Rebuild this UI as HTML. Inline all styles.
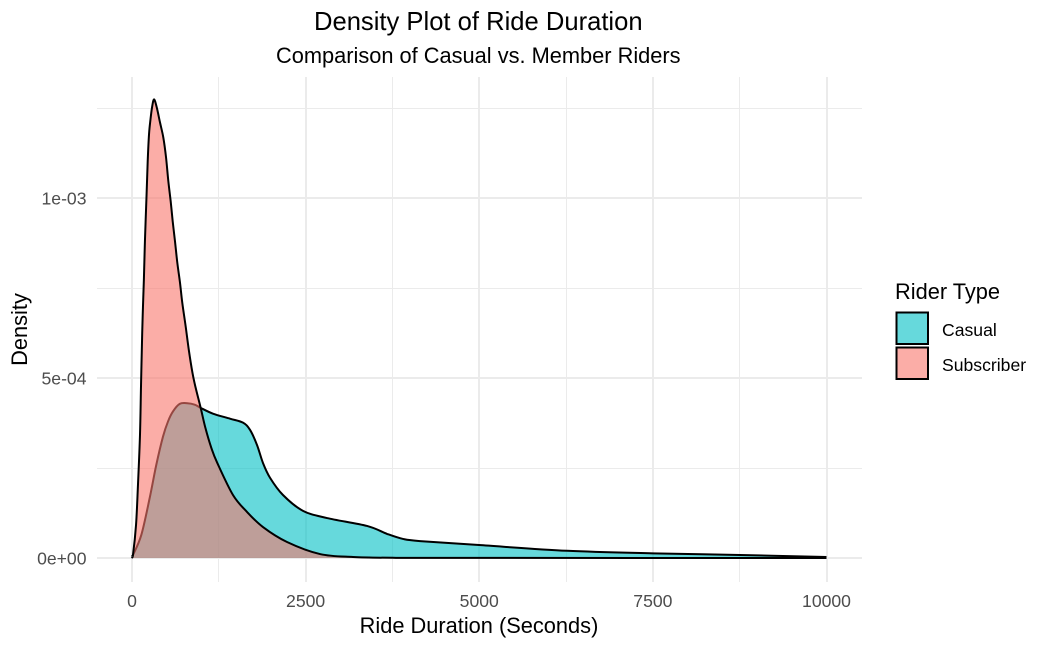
<!DOCTYPE html>
<html>
<head>
<meta charset="utf-8">
<title>Density Plot of Ride Duration</title>
<style>
html,body{margin:0;padding:0;background:#fff;}
svg{display:block;font-family:"Liberation Sans",Arial,sans-serif;}
</style>
</head>
<body>
<svg id="chart" width="1047" height="648" viewBox="0 0 1047 648" xmlns="http://www.w3.org/2000/svg">
  <g id="grid"></g>
  <g id="marks"></g>
  <g id="ticks"></g>
  <text x="478.3" y="30" text-anchor="middle" font-size="25.6" fill="#000">Density Plot of Ride Duration</text>
  <text x="478.3" y="63" text-anchor="middle" font-size="21.8" fill="#000">Comparison of Casual vs. Member Riders</text>
  <text x="479" y="633" text-anchor="middle" font-size="21.8" fill="#000">Ride Duration (Seconds)</text>
  <text transform="translate(27,329.5) rotate(-90)" text-anchor="middle" font-size="21.8" fill="#000">Density</text>
  <g>
    <text x="895" y="299" font-size="21.8" fill="#000">Rider Type</text>
    <rect x="896.5" y="312.5" width="31.5" height="31.5" fill="#00BFC4" fill-opacity="0.6" stroke="#000" stroke-width="2"/>
    <text x="942" y="336" font-size="17.6" fill="#000">Casual</text>
    <rect x="896.5" y="347.5" width="31.5" height="31.5" fill="#F8766D" fill-opacity="0.6" stroke="#000" stroke-width="2"/>
    <text x="942" y="371" font-size="17.6" fill="#000">Subscriber</text>
  </g>
</svg>
<script>
const xMajorTicks = [0, 2500, 5000, 7500, 10000];
const xTickLabels = ["0", "2500", "5000", "7500", "10000"];
const xMinorTicks = [1250, 3750, 6250, 8750];
const yMajorTicks = [0, 0.0005, 0.001];
const yTickLabels = ["0e+00", "5e-04", "1e-03"];
const yMinorTicks = [0.00025, 0.00075, 0.00125];

const casualDuration = [0, 14, 134, 255, 350, 446, 518, 590, 687, 796, 903, 989, 1166, 1411, 1598, 1699, 1800, 1886, 1987, 2174, 2462, 2808, 3384, 3672, 3902, 4147, 4996, 6263, 7502, 8754, 10000];
const casualDensity = [0.0000056, 0.0000083, 0.000064, 0.000167, 0.000259, 0.000337, 0.000379, 0.000407, 0.000428, 0.00043, 0.000426, 0.000417, 0.000401, 0.000387, 0.000376, 0.000356, 0.000314, 0.000264, 0.000223, 0.000175, 0.000131, 0.000111, 0.000089, 0.000067, 0.000053, 0.000047, 0.000036, 0.00002, 0.000013, 0.0000083, 0.0000028];

const subscriberDuration = [0, 14, 58, 86, 115, 130, 147, 158, 171, 187, 210, 226, 245, 266, 288, 317, 356, 403, 451, 490, 523, 557, 586, 619, 652, 691, 724, 773, 818, 871, 914, 989, 1056, 1142, 1228, 1454, 1656, 1886, 2232, 2707, 3182, 3800, 5000, 10000];
const subscriberDensity = [0.0000056, 0.0000083, 0.0000918, 0.000203, 0.000342, 0.000481, 0.000626, 0.000698, 0.000773, 0.000885, 0.00101, 0.001102, 0.001177, 0.001218, 0.001251, 0.001274, 0.001252, 0.00121, 0.001168, 0.001113, 0.001047, 0.000991, 0.000935, 0.00088, 0.000821, 0.000765, 0.000709, 0.000643, 0.000578, 0.000514, 0.000475, 0.000417, 0.000362, 0.000306, 0.000264, 0.000175, 0.000128, 0.000086, 0.0000445, 0.000011, 0.0000028, 0.0000005, 0.0000002, 0.0000001];

const NS = "http://www.w3.org/2000/svg";
const panelLeft = 97, panelRight = 862, panelTop = 77, panelBottom = 582;
function xScale(v) { return 132 + v * (826.5 - 132) / 10000; }
function yScale(v) { return 558 - v * 360 / 0.001; }
function snapMajor(p) { return Math.round(p); }
function snapMinor(p) { return Math.floor(p) + 0.5; }

function line(parent, x1, y1, x2, y2, w) {
  const el = document.createElementNS(NS, "line");
  el.setAttribute("x1", x1);
  el.setAttribute("y1", y1);
  el.setAttribute("x2", x2);
  el.setAttribute("y2", y2);
  el.setAttribute("stroke", "#ebebeb");
  el.setAttribute("stroke-width", w);
  parent.appendChild(el);
  return el;
}

const grid = document.getElementById("grid");
xMinorTicks.forEach(function (t) {
  const p = snapMinor(xScale(t));
  const el = line(grid, p, panelTop, p, panelBottom, 1);
  
  
});
yMinorTicks.forEach(function (t) {
  const p = snapMinor(yScale(t));
  const el = line(grid, panelLeft, p, panelRight, p, 1);
  
  
});
xMajorTicks.forEach(function (t) {
  const p = snapMajor(xScale(t));
  const el = line(grid, p, panelTop, p, panelBottom, 2);
  
  
});
yMajorTicks.forEach(function (t) {
  const p = snapMajor(yScale(t));
  const el = line(grid, panelLeft, p, panelRight, p, 2);
  
  
});

const ticks = document.getElementById("ticks");
xMajorTicks.forEach(function (t, i) {
  const el = document.createElementNS(NS, "text");
  
  
  el.setAttribute("x", xScale(t));
  el.setAttribute("y", 607);
  el.setAttribute("text-anchor", "middle");
  el.setAttribute("font-size", "17.6");
  el.setAttribute("fill", "#4d4d4d");
  el.textContent = xTickLabels[i];
  ticks.appendChild(el);
});
yMajorTicks.forEach(function (t, i) {
  const el = document.createElementNS(NS, "text");
  
  
  el.setAttribute("x", 86.5);
  el.setAttribute("y", yScale(t) + 6.7);
  el.setAttribute("text-anchor", "end");
  el.setAttribute("font-size", "17.6");
  el.setAttribute("fill", "#4d4d4d");
  el.textContent = yTickLabels[i];
  ticks.appendChild(el);
});

function curvePath(xs, ys) {
  const px = xs.map(xScale);
  const py = ys.map(yScale);
  let d = "M" + px[0].toFixed(2) + " " + py[0].toFixed(2);
  for (let i = 0; i < px.length - 1; i++) {
    const a = Math.max(i - 1, 0);
    const b = Math.min(i + 2, px.length - 1);
    const c1x = px[i] + (px[i + 1] - px[a]) / 6;
    const c1y = py[i] + (py[i + 1] - py[a]) / 6;
    const c2x = px[i + 1] - (px[b] - px[i]) / 6;
    const c2y = py[i + 1] - (py[b] - py[i]) / 6;
    d += "C" + c1x.toFixed(2) + " " + c1y.toFixed(2) + " " + c2x.toFixed(2) + " " + c2y.toFixed(2) + " " + px[i + 1].toFixed(2) + " " + py[i + 1].toFixed(2);
  }
  return d;
}

const marks = document.getElementById("marks");

const casualCurve = curvePath(casualDuration, casualDensity);
const casualArea = document.createElementNS(NS, "path");


casualArea.setAttribute("d", casualCurve + "L" + xScale(casualDuration[casualDuration.length - 1]) + " " + yScale(0) + "L" + xScale(casualDuration[0]) + " " + yScale(0) + "Z");
casualArea.setAttribute("fill", "#00BFC4");
casualArea.setAttribute("fill-opacity", "0.6");
marks.appendChild(casualArea);
const casualLine = document.createElementNS(NS, "path");


casualLine.setAttribute("d", casualCurve);
casualLine.setAttribute("fill", "none");
casualLine.setAttribute("stroke", "#000");
casualLine.setAttribute("stroke-width", "2");
casualLine.setAttribute("stroke-linejoin", "round");
marks.appendChild(casualLine);

const subscriberCurve = curvePath(subscriberDuration, subscriberDensity);
const subscriberArea = document.createElementNS(NS, "path");


subscriberArea.setAttribute("d", subscriberCurve + "L" + xScale(subscriberDuration[subscriberDuration.length - 1]) + " " + yScale(0) + "L" + xScale(subscriberDuration[0]) + " " + yScale(0) + "Z");
subscriberArea.setAttribute("fill", "#F8766D");
subscriberArea.setAttribute("fill-opacity", "0.6");
marks.appendChild(subscriberArea);
const subscriberLine = document.createElementNS(NS, "path");


subscriberLine.setAttribute("d", subscriberCurve);
subscriberLine.setAttribute("fill", "none");
subscriberLine.setAttribute("stroke", "#000");
subscriberLine.setAttribute("stroke-width", "2");
subscriberLine.setAttribute("stroke-linejoin", "round");
marks.appendChild(subscriberLine);
</script>
</body>
</html>
